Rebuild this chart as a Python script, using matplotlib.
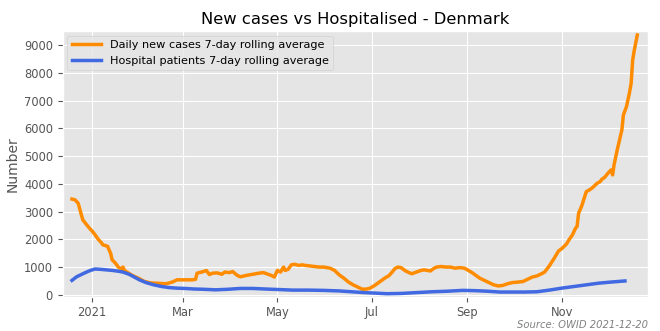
import numpy as np
import pandas as pd
import matplotlib
matplotlib.use("Agg")
import matplotlib.pyplot as plt
import matplotlib.dates as mdates

plt.style.use("ggplot")

start = pd.Timestamp("2021-01-01")

# daily new cases, 7-day rolling average (day offset from 2021-01-01, value)
case_days = [-13, -11, -9, -7, -6, -4, -2, 0, 2, 4, 6, 7, 10, 12, 13, 15, 17, 18, 19, 20,
             21, 22, 26, 30, 34, 38, 44, 48, 52, 55, 60, 65, 67, 68, 71, 74, 76, 78, 81, 84,
             86, 89, 91, 94, 96, 100, 102, 106, 108, 111, 113, 116, 118, 120, 122, 124, 125,
             127, 129, 131, 134, 136, 138, 141, 144, 147, 150, 154, 157, 160, 163, 166, 169,
             172, 175, 178, 180, 183, 186, 188, 190, 192, 194, 196, 198, 200, 203, 206, 207,
             210, 213, 215, 217, 219, 221, 223, 226, 229, 232, 235, 238, 241, 243, 246, 249,
             251, 254, 257, 260, 263, 266, 269, 272, 276, 279, 282, 285, 288, 291, 293, 296,
             299, 302, 304, 307, 309, 311, 313, 314, 315, 317, 320, 322, 324, 327, 329, 330,
             332, 334, 336, 337, 338, 340, 342, 343, 344, 346, 348, 349, 350, 351, 353]
case_vals = [3450, 3420, 3300, 2900, 2700, 2560, 2420, 2300, 2160, 2000, 1880, 1800, 1750,
             1500, 1260, 1150, 1000, 960, 880, 1000, 880, 840, 700, 600, 480, 430, 410, 400,
             460, 540, 540, 540, 560, 780, 820, 875, 730, 780, 790, 740, 820, 800, 840, 700,
             650, 700, 720, 760, 780, 800, 760, 700, 640, 880, 820, 1000, 880, 920, 1080, 1100,
             1060, 1080, 1060, 1040, 1020, 1000, 1000, 960, 880, 720, 600, 460, 360, 280, 200,
             210, 240, 340, 460, 540, 620, 680, 800, 940, 1000, 980, 860, 780, 760, 820, 880,
             900, 880, 860, 940, 1000, 1020, 1000, 1000, 960, 980, 960, 900, 800, 680, 600,
             520, 440, 360, 320, 340, 400, 440, 460, 480, 560, 640, 680, 760, 820, 1040, 1300,
             1580, 1660, 1820, 2000, 2160, 2400, 2460, 2940, 3200, 3720, 3780, 3860, 4020,
             4080, 4160, 4240, 4380, 4500, 4320, 4700, 5220, 5700, 5940, 6480, 6780, 7300,
             7620, 8460, 8800, 9360]

# hospital patients, 7-day rolling average
hosp_days = [-13, -10, -7, -4, -1, 2, 5, 9, 13, 17, 20, 24, 28, 31, 35, 40, 45, 50, 55, 60,
             66, 72, 80, 88, 96, 104, 112, 121, 130, 140, 150, 160, 168, 176, 184, 191, 200,
             210, 220, 230, 240, 248, 256, 264, 272, 280, 288, 296, 304, 312, 320, 328, 336, 345]
hosp_vals = [520, 650, 730, 810, 880, 930, 920, 900, 880, 850, 820, 740, 620, 530, 440, 360,
             300, 260, 240, 230, 210, 200, 180, 200, 230, 230, 210, 190, 170, 170, 160, 140,
             110, 80, 60, 40, 50, 80, 110, 130, 160, 150, 130, 100, 100, 100, 110, 170, 240,
             300, 360, 420, 460, 500]

case_dates = start + pd.to_timedelta(case_days, unit="D")
hosp_dates = start + pd.to_timedelta(hosp_days, unit="D")

fig = plt.figure(figsize=(6.6, 3.31), dpi=100)
ax = fig.add_axes([0.095, 0.103, 0.887, 0.803])

ax.plot(case_dates, case_vals, color="darkorange", lw=2.5,
        label="Daily new cases 7-day rolling average")
ax.plot(hosp_dates, hosp_vals, color="royalblue", lw=2.5,
        label="Hospital patients 7-day rolling average")

ax.set_xlim(start + pd.Timedelta(days=-19), start + pd.Timedelta(days=360))
ax.set_ylim(-75, 9500)
ax.set_yticks(np.arange(0, 9001, 1000))

ax.xaxis.set_major_locator(mdates.MonthLocator(bymonth=[1, 3, 5, 7, 9, 11]))
ax.xaxis.set_major_formatter(mdates.ConciseDateFormatter(ax.xaxis.get_major_locator(),
                                                          formats=["%Y", "%b", "%d", "%H:%M", "%H:%M", "%S.%f"]))
ax.xaxis.get_offset_text().set_visible(False)
ax.tick_params(labelsize=8.3, length=3.5)
ax.tick_params(axis="x", pad=3)

ax.set_ylabel("Number", fontsize=10)
ax.yaxis.set_label_coords(-0.073, 0.5)
ax.set_title("New cases vs Hospitalised - Denmark", fontsize=11.8, color="black", pad=5)
ax.legend(loc="upper left", fontsize=8.1, handlelength=2.6, borderaxespad=0.4)

fig.text(0.982, 0.003, "Source: OWID 2021-12-20", ha="right", va="bottom",
         style="italic", color="gray", fontsize=7.2)

plt.savefig("out.png", dpi=100)
